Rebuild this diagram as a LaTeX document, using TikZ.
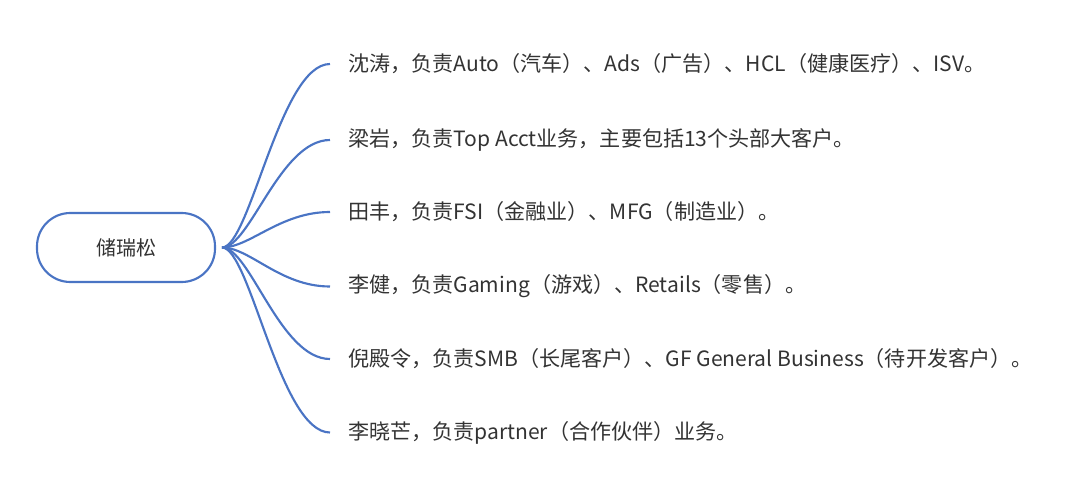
\documentclass[tikz,border=0pt]{standalone}
\usepackage{fontspec}
\usepackage{xcolor}
\usetikzlibrary{calc}
\newfontfamily\cjk{Noto Sans CJK SC}
\definecolor{branchblue}{HTML}{4A74C4}
\definecolor{txtgray}{HTML}{333333}
\tikzset{
  leaf/.style={anchor=west, inner xsep=13.5pt, inner ysep=0pt, font=\cjk\fontsize{15.8}{18}\selectfont, text=txtgray},
  branch/.style={draw=branchblue, line width=1.6pt}
}

\begin{document}
\begin{tikzpicture}[x=0.75pt, y=-0.75pt]
  \useasboundingbox (0,0) rectangle (1080,495);

  \node[draw=branchblue, line width=1.6pt, fill=white, rounded corners=25pt,
    minimum width=133.5pt, minimum height=51.75pt, font=\cjk\fontsize{15}{18}\selectfont,
    text=txtgray] (chu) at (126,247.5) {储瑞松};
  \coordinate (hub) at (222,247.5);

  \node[leaf] (shen) at (330,64) {沈涛，负责Auto（汽车）、Ads（广告）、HCL（健康医疗）、ISV。};
  \node[leaf] (liang) at (330,140) {梁岩，负责Top Acct业务，主要包括13个头部大客户。};
  \node[leaf] (tian) at (330,212) {田丰，负责FSI（金融业）、MFG（制造业）。};
  \node[leaf] (lijian) at (330,286.5) {李健，负责Gaming（游戏）、Retails（零售）。};
  \node[leaf] (ni) at (330,359) {倪殿令，负责SMB（长尾客户）、GF General Business（待开发客户）。};
  \node[leaf] (lixiao) at (330,432.5) {李晓芒，负责partner（合作伙伴）业务。};

  \foreach \n in {shen,liang,tian,lijian,ni,lixiao}
    \draw[branch] (hub) .. controls ($(hub)+(28,0)$) and ($(\n.west)+(-50,0)$) .. (\n.west);
\end{tikzpicture}
\end{document}
